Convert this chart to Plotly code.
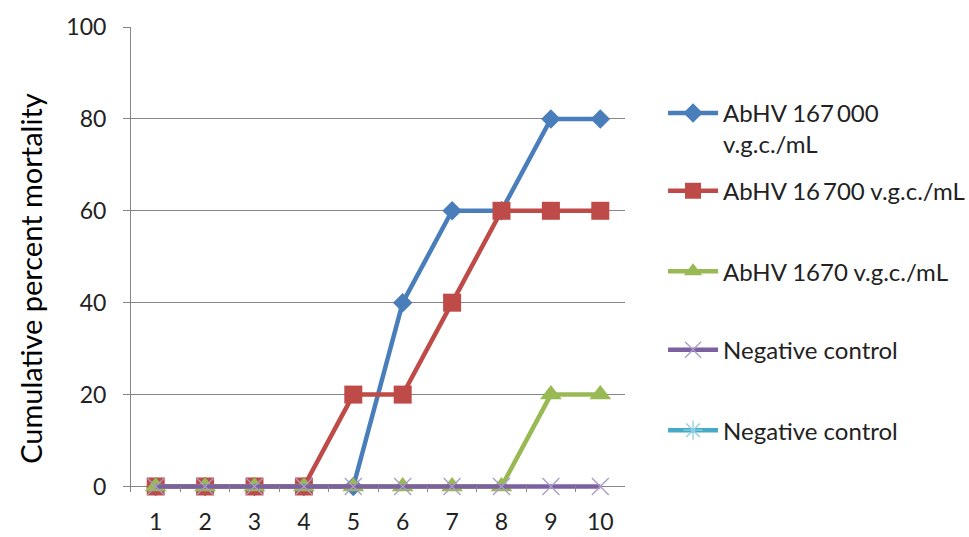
import plotly.graph_objects as go

days = ["1", "2", "3", "4", "5", "6", "7", "8", "9", "10"]
dose_167000 = [0, 0, 0, 0, 0, 40, 60, 60, 80, 80]
dose_16700 = [0, 0, 0, 0, 20, 20, 40, 60, 60, 60]
dose_1670 = [0, 0, 0, 0, 0, 0, 0, 0, 20, 20]
neg_control_a = [0, 0, 0, 0, 0, 0, 0, 0, 0, 0]
neg_control_b = [None] * 10

y_ticks = [0, 20, 40, 60, 80, 100]
y_title = "Cumulative percent mortality"

FONT = "Lato"
TEXT = "#222222"
AXIS = "#868686"

series = [
    dict(name="AbHV 167\u2009000<br>v.g.c./mL", y=dose_167000, color="#4A7EBB",
         marker=dict(symbol="diamond", size=15), legend="legend"),
    dict(name="AbHV 16\u2009700 v.g.c./mL", y=dose_16700, color="#BE4B48",
         marker=dict(symbol="square", size=18), legend="legend2"),
    dict(name="AbHV 1670 v.g.c./mL", y=dose_1670, color="#98B954",
         marker=dict(symbol="triangle-up", size=19), legend="legend3"),
    dict(name="Negative control", y=neg_control_a, color="#7D60A0",
         marker=dict(symbol="x-thin", size=17, line=dict(width=1.3, color="#A99BC6")),
         legend="legend4"),
    dict(name="Negative control", y=neg_control_b, color="#46AAC5",
         marker=dict(symbol="asterisk", size=17, line=dict(width=1.3, color="#8ECFE0")),
         legend="legend5"),
]

fig = go.Figure()
for s in series:
    fig.add_trace(go.Scatter(
        x=days, y=s["y"], name=s["name"], mode="lines+markers",
        line=dict(color=s["color"], width=4.5),
        marker=dict(color=s["color"], **s["marker"]),
        cliponaxis=False, legend=s["legend"],
    ))

legend_common = dict(
    x=1.077, xanchor="left", yanchor="middle", valign="top",
    font=dict(family=FONT, size=24, color=TEXT),
    bgcolor="rgba(0,0,0,0)", itemwidth=50,
)
fig.update_layout(
    legend=dict(y=0.781, **legend_common),
    legend2=dict(y=0.647, **legend_common),
    legend3=dict(y=0.474, **legend_common),
    legend4=dict(y=0.305, **legend_common),
    legend5=dict(y=0.132, **legend_common),
)

# The y range dips a little below zero so the zero-level lines are not clipped;
# the zero line stands in for the category axis, with short ticks hanging from it.
fig.update_xaxes(
    type="category", range=[-0.5, 9.5], tickson="boundaries",
    ticks="inside", ticklen=6, tickcolor=AXIS,
    showline=False, showgrid=False,
    tickfont=dict(family=FONT, size=23, color=TEXT),
    ticklabelstandoff=14, automargin=False,
)
fig.update_yaxes(
    range=[-1.2, 100], tickvals=y_ticks, ticks="outside", ticklen=7,
    tickcolor=AXIS, showline=True, linecolor=AXIS, linewidth=1,
    showgrid=True, gridcolor=AXIS, gridwidth=1,
    zeroline=True, zerolinecolor=AXIS, zerolinewidth=1,
    tickfont=dict(family=FONT, size=23, color=TEXT),
    ticklabelstandoff=12, automargin=False, layer="below traces",
)

# Rotated y-axis title, sitting slightly below the plot's vertical centre
fig.add_annotation(
    text=y_title, textangle=-90, showarrow=False,
    xref="paper", yref="paper", x=-0.205, y=0.46,
    xanchor="center", yanchor="middle",
    font=dict(family=FONT, size=29, color="#000000"),
)

fig.update_layout(
    width=969, height=537,
    margin=dict(l=131, r=344, t=27, b=44.5, autoexpand=False),
    paper_bgcolor="white", plot_bgcolor="white",
    showlegend=True,
)

fig.write_html("out.html")
